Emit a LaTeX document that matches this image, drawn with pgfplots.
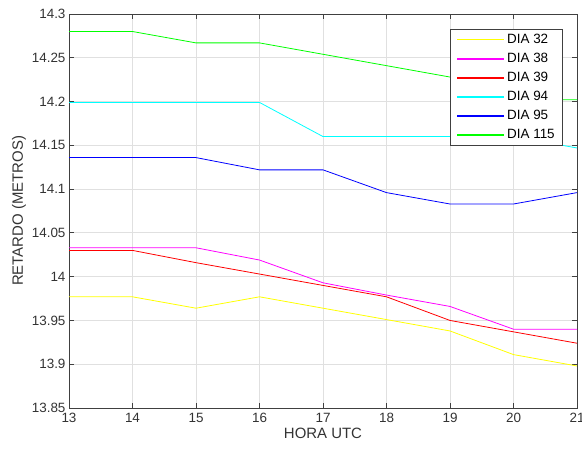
\documentclass[border=0pt]{standalone}
\usepackage{fontspec}
\setmainfont{Liberation Sans}
\usepackage{pgfplots}
\pgfplotsset{compat=1.18}

\definecolor{axgray}{gray}{0.25}
\definecolor{txtgray}{gray}{0.2}
\definecolor{grd}{gray}{0.88}
\definecolor{cY}{RGB}{255,255,0}
\definecolor{cM}{RGB}{255,0,255}
\definecolor{cR}{RGB}{255,0,0}
\definecolor{cC}{RGB}{0,255,255}
\definecolor{cB}{RGB}{0,0,255}
\definecolor{cG}{RGB}{0,255,0}

\begin{document}
\begin{tikzpicture}
\begin{axis}[
  scale only axis,
  width=508bp, height=394bp,
  xmin=13, xmax=21, ymin=13.85, ymax=14.3,
  xtick={13,14,...,21},
  ytick={13.85,13.9,13.95,14,14.05,14.1,14.15,14.2,14.25,14.3},
  yticklabels={13.85,13.9,13.95,14,14.05,14.1,14.15,14.2,14.25,14.3},
  scaled y ticks=false,
  /pgf/number format/assume math mode=true,
  tick label style={font=\fontsize{13.5}{15}\selectfont, text=txtgray},
  label style={font=\fontsize{15}{17}\selectfont, text=txtgray},
  xlabel={HORA UTC},
  ylabel={RETARDO (METROS)},
  xticklabel style={yshift=-2bp},
  xlabel style={yshift=2bp},
  ylabel style={yshift=-1bp},
  grid=major,
  grid style={grd, line width=0.8pt},
  axis line style={axgray, line width=1pt},
  tick style={axgray, line width=1pt},
  tick align=inside,
  major tick length=5bp,
  xtick pos=both, ytick pos=both,
  legend style={at={(rel axis cs:1,1)}, anchor=north east, xshift=-14bp, yshift=-15bp,
    draw=axgray, line width=0.6pt, fill=white,
    font=\fontsize{13.5}{15}\selectfont,
    row sep=4.2bp, inner xsep=6bp, inner ysep=3bp},
  legend cell align=left,
  legend image code/.code={\draw[line width=1.5pt] (0bp,0bp) -- (47bp,0bp);},
  every axis plot/.append style={line width=0.8pt},
]
\addplot[cY] coordinates {(13,13.977) (14,13.977) (15,13.964) (16,13.977) (17,13.964) (18,13.951) (19,13.938) (20,13.911) (21,13.898)};
\addlegendentry{DIA 32}
\addplot[cM] coordinates {(13,14.033) (14,14.033) (15,14.033) (16,14.019) (17,13.993) (18,13.979) (19,13.966) (20,13.940) (21,13.940)};
\addlegendentry{DIA 38}
\addplot[cR] coordinates {(13,14.030) (14,14.030) (15,14.016) (16,14.003) (17,13.990) (18,13.977) (19,13.950) (20,13.937) (21,13.924)};
\addlegendentry{DIA 39}
\addplot[cC] coordinates {(13,14.199) (14,14.199) (15,14.199) (16,14.199) (17,14.160) (18,14.160) (19,14.160) (20,14.160) (21,14.147)};
\addlegendentry{DIA 94}
\addplot[cB] coordinates {(13,14.136) (14,14.136) (15,14.136) (16,14.122) (17,14.122) (18,14.096) (19,14.083) (20,14.083) (21,14.096)};
\addlegendentry{DIA 95}
\addplot[cG] coordinates {(13,14.280) (14,14.280) (15,14.267) (16,14.267) (17,14.254) (18,14.241) (19,14.228) (20,14.202) (21,14.202)};
\addlegendentry{DIA 115}
\end{axis}
\pgfresetboundingbox
\path[use as bounding box] ([xshift=-69bp,yshift=-48bp]current axis.south west) rectangle ([xshift=5bp,yshift=14bp]current axis.north east);
\end{tikzpicture}
\end{document}
